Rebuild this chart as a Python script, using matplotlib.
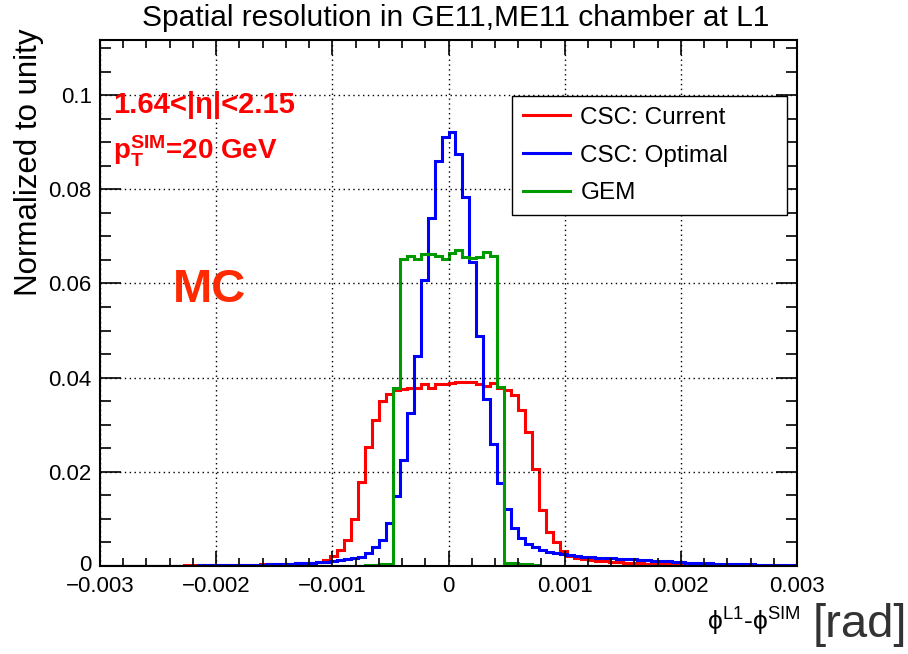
import numpy as np
import matplotlib
matplotlib.use('Agg')
import matplotlib.pyplot as plt
import matplotlib.transforms as mtransforms
from matplotlib.lines import Line2D
from matplotlib.ticker import MultipleLocator, FixedLocator

plt.rcParams['font.family'] = ['Liberation Sans', 'DejaVu Sans']
plt.rcParams['mathtext.fontset'] = 'custom'
plt.rcParams['mathtext.rm'] = 'Liberation Sans'
plt.rcParams['mathtext.it'] = 'Liberation Sans'
plt.rcParams['mathtext.bf'] = 'Liberation Sans:bold'

# 100 bins between -0.003 and 0.003 rad
x_min, x_max, n_bins = -0.003, 0.003, 100

csc_current = [
    0.0001, 0.0001, 0.0001, 0.0001, 0.0001, 0.0001, 0.0001, 0.0001, 0.0001, 0.0001,
    0.0001, 0.0001, 0.0002, 0.0002, 0.0002, 0.0002, 0.0002, 0.0002, 0.0002, 0.0003,
    0.0003, 0.0003, 0.0003, 0.0004, 0.0004, 0.0004, 0.0005, 0.0005, 0.0006, 0.0006,
    0.0007, 0.0009, 0.0013, 0.0021, 0.0034, 0.0055, 0.0099, 0.0178, 0.0252, 0.0311,
    0.0351, 0.0365, 0.0374, 0.0375, 0.0377, 0.0379, 0.0386, 0.0377, 0.0386, 0.0387,
    0.0388, 0.0390, 0.0391, 0.0390, 0.0386, 0.0382, 0.0389, 0.0377, 0.0374, 0.0364,
    0.0331, 0.0285, 0.0205, 0.0119, 0.0073, 0.0050, 0.0031, 0.0021, 0.0016, 0.0014,
    0.0012, 0.0011, 0.0010, 0.0009, 0.0008, 0.0007, 0.0007, 0.0006, 0.0005, 0.0005,
    0.0004, 0.0004, 0.0004, 0.0003, 0.0003, 0.0003, 0.0003, 0.0002, 0.0002, 0.0002,
    0.0002, 0.0002, 0.0002, 0.0001, 0.0001, 0.0001, 0.0001, 0.0001, 0.0001, 0.0001,
]

csc_optimal = [
    0.0001, 0.0001, 0.0001, 0.0001, 0.0001, 0.0001, 0.0001, 0.0001, 0.0001, 0.0001,
    0.0001, 0.0001, 0.0001, 0.0001, 0.0002, 0.0002, 0.0002, 0.0002, 0.0002, 0.0002,
    0.0003, 0.0003, 0.0003, 0.0003, 0.0004, 0.0004, 0.0005, 0.0005, 0.0006, 0.0006,
    0.0007, 0.0008, 0.0009, 0.0011, 0.0012, 0.0014, 0.0016, 0.0020, 0.0027, 0.0040,
    0.0055, 0.0091, 0.0148, 0.0225, 0.0324, 0.0446, 0.0607, 0.0740, 0.0860, 0.0912,
    0.0922, 0.0874, 0.0783, 0.0646, 0.0488, 0.0355, 0.0260, 0.0176, 0.0120, 0.0080,
    0.0059, 0.0046, 0.0041, 0.0034, 0.0030, 0.0027, 0.0025, 0.0024, 0.0022, 0.0020,
    0.0019, 0.0018, 0.0018, 0.0017, 0.0015, 0.0014, 0.0014, 0.0013, 0.0012, 0.0011,
    0.0010, 0.0010, 0.0009, 0.0008, 0.0007, 0.0007, 0.0006, 0.0006, 0.0005, 0.0005,
    0.0005, 0.0004, 0.0004, 0.0004, 0.0003, 0.0003, 0.0003, 0.0003, 0.0003, 0.0002,
]

gem = [
    0.0, 0.0, 0.0, 0.0, 0.0, 0.0, 0.0, 0.0, 0.0, 0.0,
    0.0, 0.0, 0.0, 0.0, 0.0, 0.0, 0.0, 0.0, 0.0, 0.0,
    0.0, 0.0, 0.0, 0.0, 0.0, 0.0, 0.0, 0.0, 0.00005, 0.00005,
    0.00005, 0.00005, 0.00005, 0.00005, 0.00005, 0.00005, 0.0001, 0.0001, 0.0002, 0.0003,
    0.0004, 0.0005, 0.0377, 0.0652, 0.0658, 0.0652, 0.0662, 0.0662, 0.0658, 0.0652,
    0.0664, 0.0671, 0.0657, 0.0653, 0.0657, 0.0666, 0.0659, 0.0381, 0.0006, 0.0006,
    0.0005, 0.0004, 0.0002, 0.0001, 0.0, 0.0, 0.0, 0.0, 0.0, 0.0,
    0.0, 0.0, 0.0, 0.0, 0.0, 0.0, 0.0, 0.0, 0.0, 0.0,
    0.0, 0.0, 0.0, 0.0, 0.0, 0.0, 0.0, 0.0, 0.0, 0.0,
    0.0, 0.0, 0.0, 0.0, 0.0, 0.0, 0.0, 0.0, 0.0, 0.0,
]

labels = ['CSC: Current', 'CSC: Optimal', 'GEM']
colors = ['#ff0000', '#0000ff', '#009a00']

x_ticks = [-0.003, -0.002, -0.001, 0.0, 0.001, 0.002, 0.003]
x_tick_labels = ['\u22120.003', '\u22120.002', '\u22120.001', '0', '0.001', '0.002', '0.003']
y_ticks = [0.0, 0.02, 0.04, 0.06, 0.08, 0.1]
y_tick_labels = ['0', '0.02', '0.04', '0.06', '0.08', '0.1']
y_max = 0.1117

edges = np.linspace(x_min, x_max, n_bins + 1)

fig = plt.figure(figsize=(9.08, 6.54), dpi=100)
ax = fig.add_axes([100 / 908, 1 - 566 / 654, 697 / 908, 526 / 654])

for vals, c in zip([csc_current, csc_optimal, gem], colors):
    ax.stairs(vals, edges, color=c, linewidth=2.2, baseline=None)

ax.set_xlim(x_min, x_max)
ax.set_ylim(0, y_max)

ax.xaxis.set_major_locator(FixedLocator(x_ticks))
ax.set_xticklabels(x_tick_labels)
ax.yaxis.set_major_locator(FixedLocator(y_ticks))
ax.set_yticklabels(y_tick_labels)
ax.xaxis.set_minor_locator(MultipleLocator(0.0002))
ax.yaxis.set_minor_locator(MultipleLocator(0.005))

ax.tick_params(which='both', direction='in', top=True, right=True, width=1.2)
ax.tick_params(axis='x', which='major', length=11, labelsize=16, pad=7)
ax.tick_params(axis='x', which='minor', length=5.5)
ax.tick_params(axis='y', which='major', length=15, labelsize=16, pad=6)
ax.tick_params(axis='y', which='minor', length=8)

# lift the "0" of the y axis a little so it clears the x labels
zero_lbl = ax.get_yticklabels()[0]
zero_lbl.set_transform(zero_lbl.get_transform() +
                       mtransforms.ScaledTranslation(0, 3 / 100, fig.dpi_scale_trans))

ax.grid(True, which='major', color='black', linestyle=(0, (1, 2.5)), linewidth=1.0)
for s in ax.spines.values():
    s.set_linewidth(1.5)

handles = [Line2D([], [], color=c, linewidth=2.2) for c in colors]
leg = ax.legend(handles, labels, loc='upper left',
                bbox_to_anchor=(0.591, 0.8935, 0.395, 0.0), mode='expand',
                borderaxespad=0, fontsize=17.5, frameon=True, fancybox=False,
                edgecolor='black', handlelength=1.95, handletextpad=0.42,
                labelspacing=0.64, borderpad=0.45)
leg.get_frame().set_linewidth(1.0)
leg.get_frame().set_alpha(1)

# labels and titles
fig.text(456 / 908, 1 - 18 / 654, 'Spatial resolution in GE11,ME11 chamber at L1',
         ha='center', va='center', fontsize=21.5)
fig.text(29 / 908, 1 - 29 / 654, 'Normalized to unity', rotation=90,
         ha='center', va='top', fontsize=22.5)
fig.text(800 / 908, 1 - 622 / 654, '\u03d5$^{\\mathrm{L1}}$-\u03d5$^{\\mathrm{SIM}}$',
         ha='right', va='center', fontsize=19)
fig.text(813 / 908, 1 - 625 / 654, '[rad]', ha='left', va='center',
         fontsize=34, color='#333333')

ax.text(113 / 908, 1 - 105 / 654, '1.64<|\u03b7|<2.15', transform=fig.transFigure,
        ha='left', va='center', fontsize=21, fontweight='bold', color='#ff0000')
ax.text(113 / 908, 1 - 151 / 654, r'$\mathbf{p}_{\mathbf{T}}^{\mathbf{SIM}}$=20 GeV',
        transform=fig.transFigure, ha='left', va='center', fontsize=20,
        fontweight='bold', color='#ff0000')
ax.text(210 / 908, 1 - 290 / 654, 'MC', transform=fig.transFigure,
        ha='center', va='center', fontsize=34, fontweight='bold', color='#ff2a00')

fig.savefig('out.png', dpi=100)
